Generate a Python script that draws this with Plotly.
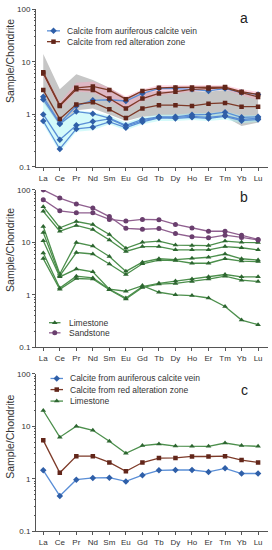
import plotly.graph_objects as go

# ---------------- data ----------------
REE = ["La", "Ce", "Pr", "Nd", "Sm", "Eu", "Gd", "Tb", "Dy", "Ho", "Er", "Tm", "Yb", "Lu"]

# panel a : calcite from auriferous calcite vein (4 samples)
vein_1 = [2.16, 0.68, 1.45, 1.85, 1.9, 1.8, 2.5, 3.1, 3.1, 3.0, 2.8, 3.1, 2.6, 2.4]
vein_2 = [1.92, 0.66, 1.13, 1.03, 0.85, 0.62, 0.8, 0.9, 0.9, 0.98, 1.0, 1.1, 0.88, 0.9]
vein_3 = [1.0, 0.33, 0.62, 0.73, 0.82, 0.6, 0.75, 0.88, 0.88, 0.92, 0.88, 0.95, 0.8, 0.85]
vein_4 = [0.75, 0.22, 0.53, 0.57, 0.72, 0.56, 0.72, 0.86, 0.84, 0.88, 0.84, 0.92, 0.76, 0.8]

# panel a : calcite from red alteration zone (3 samples)
red_1 = [6.3, 1.5, 3.2, 3.4, 2.9, 1.95, 2.8, 3.2, 3.25, 3.25, 3.25, 3.3, 2.7, 2.4]
red_2 = [6.0, 1.45, 3.0, 2.9, 2.0, 1.3, 2.0, 2.5, 2.7, 3.0, 3.1, 3.2, 2.6, 2.15]
red_3 = [2.9, 0.82, 1.55, 1.7, 1.25, 0.85, 1.3, 1.5, 1.5, 1.45, 1.6, 1.65, 1.4, 1.4]

# panel a : shaded ranges
gray_hi = [14, 3.0, 5.8, 4.5, 3.2, 2.1, 2.6, 2.8, 2.8, 2.8, 2.7, 2.9, 2.6, 2.3]
gray_lo = [1.7, 0.6, 1.2, 1.3, 1.0, 0.75, 0.9, 0.95, 0.95, 0.95, 0.85, 0.9, 0.6, 0.7]
pink_hi = [6.8, 1.7, 4.0, 4.2, 3.2, 2.2, 3.0, 3.6, 3.6, 3.6, 3.6, 3.6, 3.0, 2.7]
pink_lo = [5.4, 1.3, 2.7, 2.6, 1.8, 1.2, 1.8, 2.3, 2.5, 2.7, 2.8, 2.9, 2.3, 1.9]
cyan_hi = [2.0, 0.7, 1.2, 1.1, 0.95, 0.7, 0.88, 1.0, 1.0, 1.05, 1.05, 1.15, 0.95, 0.97]
cyan_lo = [0.65, 0.19, 0.47, 0.5, 0.65, 0.5, 0.65, 0.75, 0.75, 0.78, 0.75, 0.8, 0.68, 0.72]

# panel b : sandstone (2 samples)
sand_1 = [100, 70, 54, 45, 31, 18.5, 17.8, 18.3, 14.7, 12.8, 12.2, 13.7, 12.4, 11.1]
sand_2 = [65, 40, 36.5, 36.5, 27.4, 25.5, 27.4, 27, 22, 18.8, 16.3, 16.3, 13.7, 11.4]

# panel b : limestone (7 samples)
lime_1 = [48, 19, 25, 21.8, 14.1, 7.7, 10, 10.6, 8.9, 8.7, 8.7, 10.6, 10, 9.9]
lime_2 = [39, 16.3, 21, 17.5, 11.1, 6.7, 8.3, 8.3, 7.2, 7.2, 7.2, 8.3, 7.9, 7.2]
lime_3 = [20, 2.5, 9.9, 8.5, 5.4, 2.8, 4.2, 4.87, 4.7, 5.0, 5.2, 6.0, 4.87, 4.6]
lime_4 = [15.4, 2.3, 6.4, 6.0, 3.87, 2.44, 3.9, 4.6, 4.5, 4.0, 4.0, 4.87, 4.4, 4.3]
lime_5 = [10.7, 2.2, 3.1, 2.74, 1.28, 1.17, 1.5, 1.12, 1.0, 0.97, 0.87, 0.6, 0.33, 0.27]
lime_6 = [6.3, 1.35, 2.27, 2.1, 1.28, 0.87, 1.43, 1.66, 1.83, 2.0, 2.2, 2.44, 2.2, 2.2]
lime_7 = [4.9, 1.28, 2.05, 2.0, 1.25, 0.83, 1.38, 1.6, 1.65, 1.8, 2.0, 2.27, 1.9, 1.8]

# panel c : averages
avg_vein = [1.45, 0.47, 0.96, 1.04, 1.05, 0.89, 1.17, 1.45, 1.47, 1.47, 1.35, 1.58, 1.26, 1.26]
avg_red = [5.4, 1.3, 2.7, 2.7, 2.05, 1.39, 2.04, 2.48, 2.5, 2.66, 2.66, 2.7, 2.27, 2.05]
avg_lime = [20, 6.2, 10, 8.4, 5.2, 3.07, 4.3, 4.6, 4.2, 4.15, 4.15, 4.8, 4.3, 4.15]

Y_TICKS = [0.1, 1, 10, 100]
Y_TICK_TEXT = ["0.1", "1", "10", "100"]
Y_MINOR = [m * 10 ** e for e in (-1, 0, 1) for m in range(2, 10)]

NAME_VEIN = "Calcite from auriferous calcite vein"
NAME_RED = "Calcite from red alteration zone"
NAME_LIME = "Limestone"
NAME_SAND = "Sandstone"

# ---------------- styles ----------------
FONT = "Arial, Liberation Sans, sans-serif"
TXT = "#333333"
BLUE_L, BLUE_M = "#5a8ed6", "#2f5fa8"
RED_L, RED_M = "#7d3a28", "#62261a"
GRN_L, GRN_M = "#4c8f4c", "#2d6630"
PUR_L, PUR_M = "#8f5f8f", "#6a3f6e"

W, H = 272, 550
ML, MR = 36, 4
PW = W - ML - MR
# vertical pixel extents (top=100, bottom=0.1) of the three panels
PANELS = [(5.3, 165.7), (189.0, 349.0), (376.0, 536.0)]

fig = go.Figure()

STYLE = {
    "vein": dict(line=dict(color=BLUE_L, width=1.3), marker=dict(symbol="diamond", size=5, color=BLUE_M)),
    "red": dict(line=dict(color=RED_L, width=1.3), marker=dict(symbol="square", size=4.5, color=RED_M)),
    "lime": dict(line=dict(color=GRN_L, width=1.3), marker=dict(symbol="triangle-up", size=5, color=GRN_M)),
    "sand": dict(line=dict(color=PUR_L, width=1.3), marker=dict(symbol="circle", size=5, color=PUR_M)),
}


def band(hi, lo, color, xa, ya):
    fig.add_trace(go.Scatter(x=REE + REE[::-1], y=hi + lo[::-1], fill="toself",
                             fillcolor=color, line=dict(width=0), mode="lines",
                             hoverinfo="skip", showlegend=False, xaxis=xa, yaxis=ya))


def series(vals, kind, xa, ya):
    st = STYLE[kind]
    fig.add_trace(go.Scatter(x=REE, y=vals, mode="lines+markers", line=st["line"],
                             marker=st["marker"], showlegend=False, xaxis=xa, yaxis=ya))


# panel a
band(gray_hi, gray_lo, "rgb(198,198,198)", "x", "y")
band(pink_hi, pink_lo, "rgba(250,165,190,0.45)", "x", "y")
band(cyan_hi, cyan_lo, "rgba(170,245,245,0.5)", "x", "y")
for v in (vein_1, vein_2, vein_3, vein_4):
    series(v, "vein", "x", "y")
for v in (red_3, red_2, red_1):
    series(v, "red", "x", "y")

# panel b
for v in (lime_1, lime_2, lime_3, lime_4, lime_5, lime_6, lime_7):
    series(v, "lime", "x2", "y2")
for v in (sand_1, sand_2):
    series(v, "sand", "x2", "y2")

# panel c
series(avg_lime, "lime", "x3", "y3")
series(avg_red, "red", "x3", "y3")
series(avg_vein, "vein", "x3", "y3")

# ---------------- legend keys (drawn on a pixel overlay axis) ----------------
LEGENDS = [
    (47.0, 60.0, 65.0, [(27.3, NAME_VEIN, "vein"), (38.3, NAME_RED, "red")]),
    (49.0, 60.5, 66.5, [(324.0, NAME_LIME, "lime"), (334.3, NAME_SAND, "sand")]),
    (50.5, 63.0, 67.5, [(380.7, NAME_VEIN, "vein"), (392.0, NAME_RED, "red"), (403.7, NAME_LIME, "lime")]),
]


def px(x):
    return (x - ML) / PW


def py(y):
    return 1 - y / H


annotations = []
for x0, x1, xt, rows in LEGENDS:
    for yy, name, kind in rows:
        st = STYLE[kind]
        fig.add_trace(go.Scatter(x=[x0, x1], y=[yy, yy], mode="lines", line=st["line"],
                                 showlegend=False, hoverinfo="skip", xaxis="x4", yaxis="y4"))
        fig.add_trace(go.Scatter(x=[(x0 + x1) / 2], y=[yy], mode="markers", marker=st["marker"],
                                 showlegend=False, hoverinfo="skip", xaxis="x4", yaxis="y4"))
        annotations.append(dict(x=px(xt), y=py(yy), xref="paper", yref="paper", text=name,
                                showarrow=False, xanchor="left", yanchor="middle",
                                font=dict(family=FONT, size=8.5, color=TXT)))

# panel letters & y titles
for letter, ly, ty in zip(["a", "b", "c"], [14, 196, 392], [58, 250, 440]):
    annotations.append(dict(x=px(244), y=py(ly), xref="paper", yref="paper", text=letter,
                            showarrow=False, xanchor="center", yanchor="middle",
                            font=dict(family=FONT, size=14, color="#222")))
    annotations.append(dict(x=px(10), y=py(ty), xref="paper", yref="paper", text="Sample/Chondrite",
                            showarrow=False, textangle=-90, xanchor="center", yanchor="middle",
                            font=dict(family=FONT, size=10.5, color=TXT)))

# ---------------- axes ----------------
def xax(anchor):
    return dict(type="category", categoryorder="array", categoryarray=REE,
                range=[-0.44, 13.6], domain=[0, 1], anchor=anchor,
                showline=True, linecolor="#555", linewidth=1, ticks="outside",
                ticklen=3, tickcolor="#555", showgrid=False, zeroline=False,
                tickfont=dict(family=FONT, size=8, color=TXT), fixedrange=True)


def yax(anchor, top, bot):
    return dict(type="log", range=[-1, 2], domain=[1 - bot / H, 1 - top / H], anchor=anchor,
                tickmode="array", tickvals=Y_TICKS, ticktext=Y_TICK_TEXT,
                showline=True, linecolor="#555", linewidth=1, ticks="outside",
                ticklen=3, tickcolor="#555", showgrid=False, zeroline=False,
                minor=dict(tickmode="array", tickvals=Y_MINOR, ticks="outside",
                           ticklen=1.5, tickcolor="#555", showgrid=False),
                tickfont=dict(family=FONT, size=8, color=TXT), fixedrange=True)


fig.update_layout(
    width=W, height=H,
    margin=dict(l=ML, r=MR, t=0, b=0, pad=0),
    paper_bgcolor="white", plot_bgcolor="rgba(0,0,0,0)",
    showlegend=False,
    xaxis=xax("y"), yaxis=yax("x", *PANELS[0]),
    xaxis2=xax("y2"), yaxis2=yax("x2", *PANELS[1]),
    xaxis3=xax("y3"), yaxis3=yax("x3", *PANELS[2]),
    xaxis4=dict(range=[ML, W - MR], domain=[0, 1], anchor="y4", visible=False, fixedrange=True),
    yaxis4=dict(range=[H, 0], domain=[0, 1], anchor="x4", visible=False, fixedrange=True),
    annotations=annotations,
)

fig.write_html("out.html", config={"displayModeBar": False},
               post_script="document.body.style.margin='0';document.body.style.overflow='hidden';")
